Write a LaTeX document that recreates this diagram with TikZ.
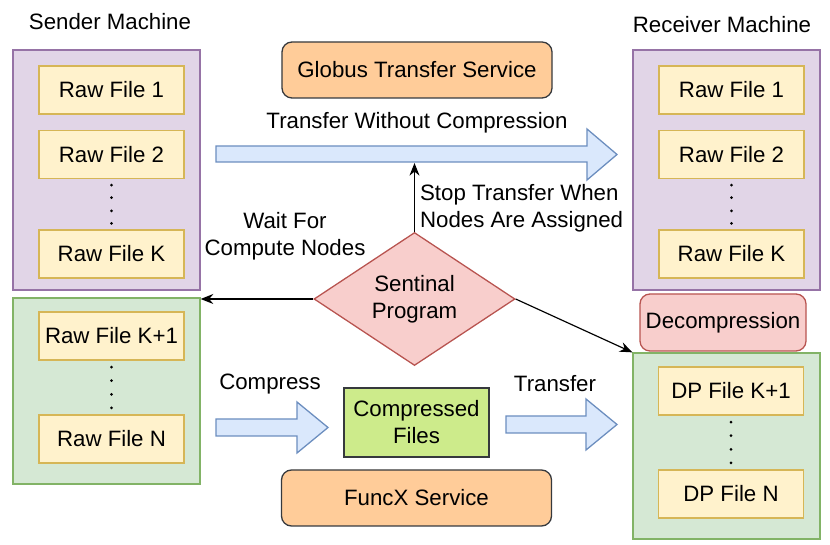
\documentclass[tikz,border=0pt]{standalone}
\usepackage{fontspec}
\setmainfont{Liberation Sans}
\usetikzlibrary{shapes.geometric,arrows.meta,calc}

\definecolor{machFill}{HTML}{E1D5E7}
\definecolor{machLine}{HTML}{9673A6}
\definecolor{fileFill}{HTML}{FFF2CC}
\definecolor{fileLine}{HTML}{D6B656}
\definecolor{nodeFill}{HTML}{D5E8D4}
\definecolor{nodeLine}{HTML}{82B366}
\definecolor{svcFill}{HTML}{FFCC99}
\definecolor{svcLine}{HTML}{36393D}
\definecolor{redFill}{HTML}{F8CECC}
\definecolor{redLine}{HTML}{B85450}
\definecolor{blueFill}{HTML}{DAE8FC}
\definecolor{blueLine}{HTML}{6C8EBF}
\definecolor{cmpFill}{HTML}{CDEB8B}

\begin{document}
\begin{tikzpicture}[x=0.03cm,y=-0.03cm,
    font=\fontsize{19}{23}\selectfont,
    machBox/.style={draw=machLine,fill=machFill,line width=1.1pt,minimum width=5.61cm,minimum height=7.2cm},
    nodeBox/.style={draw=nodeLine,fill=nodeFill,line width=1.1pt,minimum width=5.61cm,minimum height=5.58cm},
    fileBox/.style={draw=fileLine,fill=fileFill,line width=1.1pt,minimum width=4.35cm,minimum height=1.44cm},
    svcBox/.style={draw=svcLine,fill=svcFill,line width=1.1pt,rounded corners=0.3cm,minimum width=8.1cm,minimum height=1.68cm},
    blockArrow/.style={draw=blueLine,fill=blueFill,line width=1.1pt},
    ctrlArrow/.style={-{Stealth[length=3.8mm,width=3mm]},line width=1pt},
]
\useasboundingbox (0,0) rectangle (830,545);

% Sender side
\node (sendLbl) at (110,22) {Sender Machine};
\node[machBox] (sendA) at (106.5,170) {};
\node[fileBox] (s1) at (111.5,90) {Raw File 1};
\node[fileBox] (s2) at (111.5,154.5) {Raw File 2};
\node[fileBox] (sK) at (111.5,254) {Raw File K};
\node[nodeBox] (sendB) at (106.5,391) {};
\node[fileBox] (sK1) at (111.5,336) {Raw File K+1};
\node[fileBox] (sN) at (111.5,439) {Raw File N};

% Receiver side
\node (recvLbl) at (722,25) {Receiver Machine};
\node[machBox] (recvA) at (726.5,170) {};
\node[fileBox] (r1) at (731.5,90) {Raw File 1};
\node[fileBox] (r2) at (731.5,154.5) {Raw File 2};
\node[fileBox] (rK) at (731.5,254) {Raw File K};
\node[draw=redLine,fill=redFill,line width=1.1pt,rounded corners=0.3cm,minimum width=4.98cm,minimum height=1.71cm] (decomp) at (723,322.5) {Decompression};
\node[nodeBox] (recvB) at (726.5,446) {};
\node[fileBox] (d1) at (731,391) {DP File K+1};
\node[fileBox] (dN) at (731,494) {DP File N};

% Dots
\foreach \p in {0.12,0.37,0.63,0.88} {
  \fill ($(s2.south)!\p!(sK.north)$) circle (0.045cm);
  \fill ($(r2.south)!\p!(rK.north)$) circle (0.045cm);
  \fill ($(sK1.south)!\p!(sN.north)$) circle (0.045cm);
  \fill ($(d1.south)!\p!(dN.north)$) circle (0.045cm);
}

% Services
\node[svcBox] (globus) at (417,70) {Globus Transfer Service};
\node[svcBox] (funcx) at (416.5,498) {FuncX Service};
\node[draw=svcLine,fill=cmpFill,line width=1.1pt,minimum width=4.35cm,minimum height=2.07cm,align=center] (cmp) at (416.5,422.5) {Compressed\\Files};

% Block arrows
\draw[blockArrow] (216,146) -- (587,146) -- (587,129) -- (617,154.5) -- (587,180) -- (587,162) -- (216,162) -- cycle;
\draw[blockArrow] (216,419) -- (297,419) -- (297,402) -- (328,427.5) -- (297,453) -- (297,436) -- (216,436) -- cycle;
\draw[blockArrow] (506,416) -- (586,416) -- (586,399) -- (617,424.5) -- (586,450) -- (586,433) -- (506,433) -- cycle;
\coordinate (bigBot) at (414.5,163);
\node (noCmp) at (417,123) {Transfer Without Compression};
\node (cmpLbl) at (270,384) {Compress};
\node (trfLbl) at (555,384) {Transfer};

% Sentinal
\node[diamond,draw=redLine,fill=redFill,line width=1.1pt,minimum width=6.03cm,minimum height=3.78cm,inner sep=0pt,align=center] (sent) at (414.5,299) {Sentinal\\Program};
\node[align=center] (waitLbl) at (285,236) {Wait For\\Compute Nodes};
\node[align=left,anchor=west] (stopLbl) at (416,208.5) {Stop Transfer When\\Nodes Are Assigned};

\draw[ctrlArrow] (sent.north) -- (bigBot);
\draw[ctrlArrow] (sent.west) -- (sent.west -| sendB.east);
\draw[ctrlArrow] (sent.east) -- (recvB.north west);
\end{tikzpicture}
\end{document}
